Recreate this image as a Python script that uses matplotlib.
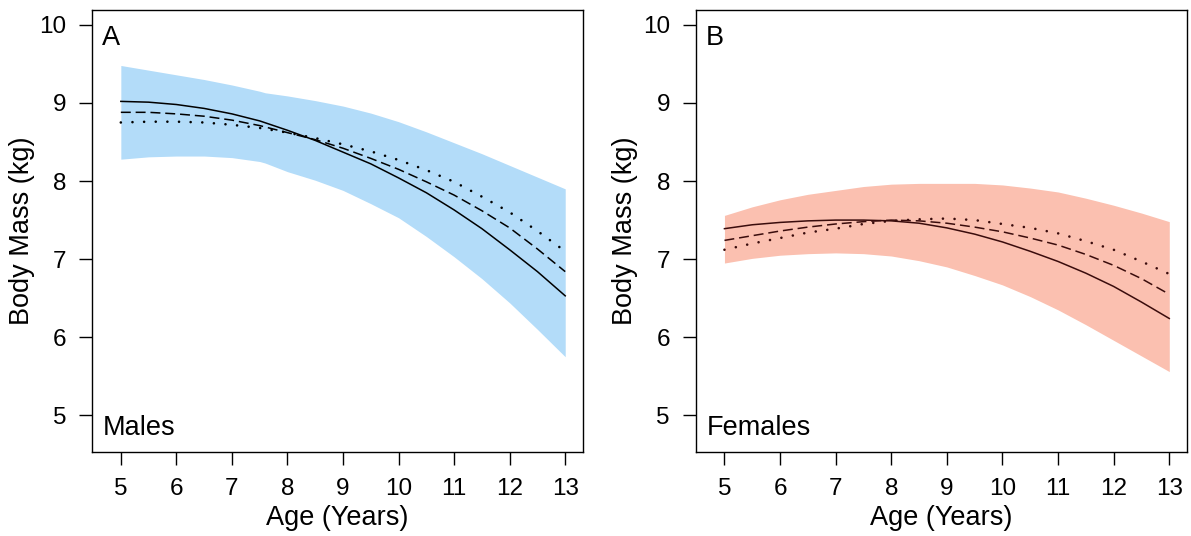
import numpy as np
import matplotlib
matplotlib.use("Agg")
import matplotlib.pyplot as plt

plt.rcParams["font.family"] = ["Liberation Sans", "DejaVu Sans"]

# ─── Data (half-year steps) ──────────────────────────────────────────────────

age = [5, 5.5, 6, 6.5, 7, 7.5, 8, 8.5, 9, 9.5, 10, 10.5, 11, 11.5, 12, 12.5, 13]

# males (panel A) – band has a small kink near 7.6 years
band_age_m = [5, 5.5, 6, 6.5, 7, 7.5, 7.6, 8, 8.5, 9, 9.5, 10, 10.5, 11,
              11.5, 12, 12.5, 13]
upper_m = [9.48, 9.42, 9.36, 9.30, 9.23, 9.15, 9.13, 9.09, 9.03, 8.96, 8.87,
           8.76, 8.63, 8.49, 8.35, 8.20, 8.05, 7.90]
lower_m = [8.28, 8.31, 8.32, 8.32, 8.30, 8.25, 8.23, 8.12, 8.01, 7.88, 7.71,
           7.53, 7.29, 7.03, 6.75, 6.44, 6.10, 5.75]
solid_m  = [9.02, 9.01, 8.98, 8.93, 8.86, 8.77, 8.65, 8.52, 8.37, 8.22, 8.04,
            7.85, 7.63, 7.39, 7.12, 6.84, 6.53]
dashed_m = [8.88, 8.88, 8.86, 8.83, 8.78, 8.71, 8.62, 8.53, 8.42, 8.29, 8.15,
            7.99, 7.82, 7.62, 7.40, 7.13, 6.84]
dotted_m = [8.75, 8.76, 8.76, 8.75, 8.72, 8.68, 8.62, 8.55, 8.47, 8.38, 8.27,
            8.14, 7.99, 7.80, 7.60, 7.36, 7.10]

# females (panel B)
upper_f  = [7.56, 7.67, 7.76, 7.83, 7.88, 7.93, 7.96, 7.97, 7.97, 7.97, 7.95,
            7.91, 7.86, 7.78, 7.69, 7.59, 7.48]
lower_f  = [6.95, 7.01, 7.05, 7.07, 7.08, 7.07, 7.04, 6.98, 6.90, 6.79, 6.67,
            6.52, 6.35, 6.16, 5.96, 5.76, 5.56]
solid_f  = [7.39, 7.44, 7.47, 7.49, 7.50, 7.50, 7.49, 7.46, 7.40, 7.32, 7.22,
            7.10, 6.97, 6.82, 6.65, 6.45, 6.24]
dashed_f = [7.24, 7.30, 7.36, 7.41, 7.45, 7.48, 7.50, 7.49, 7.46, 7.41, 7.35,
            7.27, 7.18, 7.06, 6.92, 6.75, 6.55]
dotted_f = [7.12, 7.20, 7.27, 7.34, 7.39, 7.45, 7.49, 7.51, 7.52, 7.50, 7.45,
            7.40, 7.33, 7.23, 7.12, 6.97, 6.81]

x_ticks = [5, 6, 7, 8, 9, 10, 11, 12, 13]
y_ticks = [5, 6, 7, 8, 9, 10]

FS_TICK = 17.5
FS_TEXT = 19.5


def draw_panel(ax, bx, lo, hi, solid, dashed, dotted, fill, line, letter, sex):
    ax.fill_between(bx, lo, hi, color=fill, lw=0)
    ax.plot(age, solid, color=line, lw=1.1)
    ax.plot(age, dashed, color=line, lw=1.1, linestyle=(0, (6.5, 3.2)))
    ax.plot(age, dotted, color=line, lw=1.9, linestyle=(0, (0.01, 4.4)),
            dash_capstyle="round")

    ax.set_xlim(4.48, 13.32)
    ax.set_ylim(4.53, 10.19)
    ax.set_xticks(x_ticks)
    ax.set_yticks(y_ticks)
    ax.tick_params(axis="both", direction="out", length=9.4, width=1.0,
                   labelsize=FS_TICK, pad=9)
    for sp in ax.spines.values():
        sp.set_linewidth(1.0)

    ax.text(0.02, 0.965, letter, transform=ax.transAxes, fontsize=FS_TEXT,
            ha="left", va="top")
    ax.text(0.022, 0.025, sex, transform=ax.transAxes, fontsize=FS_TEXT,
            ha="left", va="bottom")
    ax.text(0.5, -0.149, "Age (Years)", transform=ax.transAxes,
            fontsize=FS_TEXT, ha="center", va="center")
    ax.text(-0.143, 0.5, "Body Mass (kg)", transform=ax.transAxes,
            fontsize=FS_TEXT, ha="center", va="center", rotation=90)


fig = plt.figure(figsize=(11.91, 5.36), dpi=100)
ax_a = fig.add_axes([0.0772, 0.1567, 0.4123, 0.8246])
ax_b = fig.add_axes([0.5840, 0.1567, 0.4127, 0.8246])

draw_panel(ax_a, band_age_m, lower_m, upper_m, solid_m, dashed_m, dotted_m,
           "#b3dcf9", "black", "A", "Males")
draw_panel(ax_b, age, lower_f, upper_f, solid_f, dashed_f, dotted_f,
           "#fbc0b0", "#3a0c0c", "B", "Females")

fig.savefig("out.png", dpi=100)
